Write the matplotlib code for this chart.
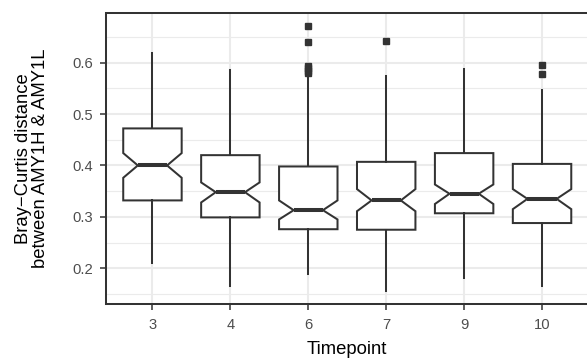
import matplotlib.pyplot as plt
from matplotlib.ticker import MultipleLocator

plt.rcParams['font.family'] = ['Liberation Sans', 'DejaVu Sans']

# values
timepoints = ['3', '4', '6', '7', '9', '10']
q1 = [0.332, 0.299, 0.276, 0.275, 0.307, 0.288]
med = [0.400, 0.348, 0.313, 0.332, 0.345, 0.335]
q3 = [0.472, 0.420, 0.398, 0.407, 0.424, 0.403]
notch_lo = [0.376, 0.328, 0.295, 0.311, 0.325, 0.315]
notch_hi = [0.424, 0.367, 0.332, 0.354, 0.363, 0.354]
whisk_lo = [0.211, 0.166, 0.188, 0.155, 0.182, 0.166]
whisk_hi = [0.618, 0.586, 0.576, 0.573, 0.588, 0.547]
outliers = [[], [], [0.672, 0.640, 0.594, 0.589, 0.584, 0.579], [0.642], [], [0.595, 0.577]]

dark = '#333333'
grid = '#EBEBEB'

stats = []
for i, tp in enumerate(timepoints):
    stats.append(dict(label=tp, med=med[i], q1=q1[i], q3=q3[i],
                      cilo=notch_lo[i], cihi=notch_hi[i],
                      whislo=whisk_lo[i], whishi=whisk_hi[i],
                      fliers=outliers[i]))

fig = plt.figure(figsize=(5.87, 3.6), dpi=100)
# panel runs a little past the right edge of the image, as in the reference
ax = fig.add_axes([105.7 / 587, 1 - 304.3 / 360, (588.8 - 105.7) / 587, (304.3 - 12.7) / 360])

ax.bxp(stats, positions=range(len(timepoints)), widths=0.75, shownotches=True,
       showcaps=False, patch_artist=True,
       boxprops=dict(facecolor='white', edgecolor=dark, linewidth=1.45),
       whiskerprops=dict(color=dark, linewidth=1.45),
       medianprops=dict(color=dark, linewidth=2.9, solid_capstyle='butt'),
       flierprops=dict(marker='s', markersize=3.9, markerfacecolor=dark,
                       markeredgecolor=dark, linestyle='none'),
       zorder=3)

ax.set_xlim(-0.6, len(timepoints) - 0.4)
ax.set_ylim(0.130, 0.697)
ax.set_xticks(range(len(timepoints)))
ax.set_xticklabels(timepoints)
ax.yaxis.set_major_locator(MultipleLocator(0.1))
ax.yaxis.set_minor_locator(MultipleLocator(0.05))
ax.yaxis.set_major_formatter(plt.FuncFormatter(lambda v, p: '%.1f' % v))

ax.grid(True, which='major', color=grid, linewidth=1.5, zorder=0)
ax.grid(True, which='minor', axis='y', color=grid, linewidth=0.8, zorder=0)
ax.set_axisbelow(True)

for s in ax.spines.values():
    s.set_color(dark)
    s.set_linewidth(1.45)

ax.tick_params(which='major', length=4, width=1.1, color=dark,
               labelsize=10.6, labelcolor='#4D4D4D')
ax.tick_params(axis='x', pad=6.2)
ax.tick_params(axis='y', pad=5.4)
ax.tick_params(which='minor', length=0)

ax.set_xlabel('Timepoint', fontsize=13.3, color='black', labelpad=6.5)
fig.text(32.5 / 587, 1 - 158.5 / 360, 'Bray\u2212Curtis distance\nbetween AMY1H & AMY1L',
         rotation=90, ha='center', va='center', fontsize=13.3, linespacing=1.0)

fig.savefig('out.png', dpi=100)
